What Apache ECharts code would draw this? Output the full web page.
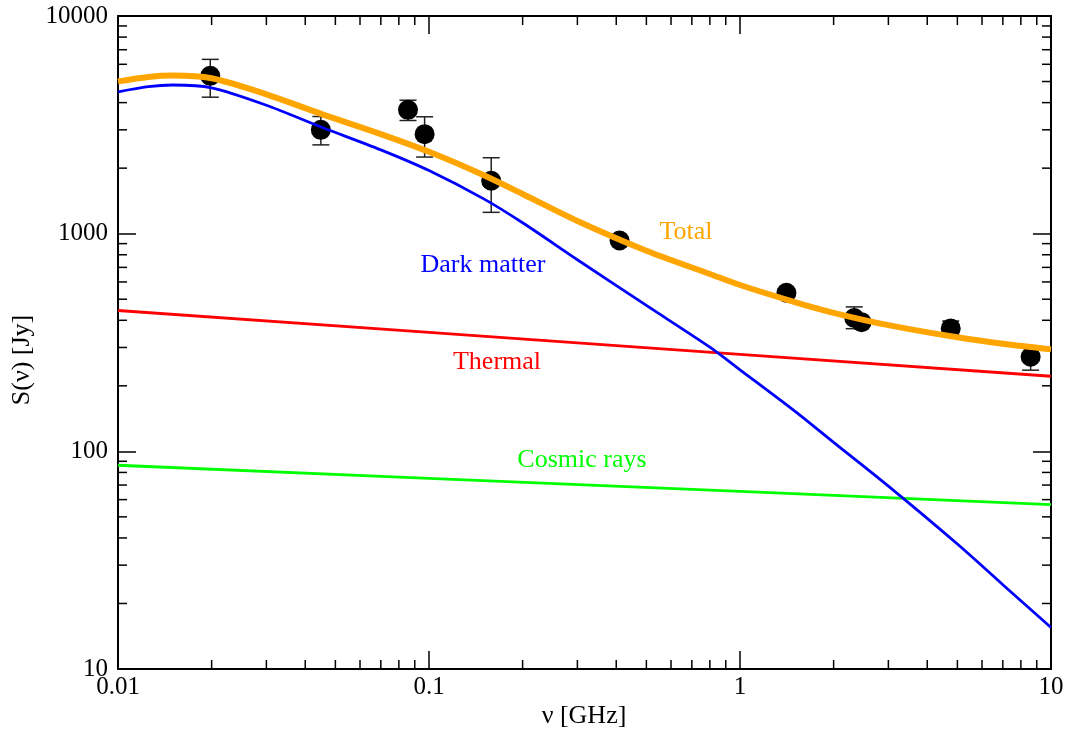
<!DOCTYPE html>
<html>
<head>
<meta charset="utf-8">
<script src="https://cdn.jsdelivr.net/npm/echarts@6/dist/echarts.min.js"></script>
<style>
  html, body { margin: 0; padding: 0; background: #fff; }
  #chart { width: 1072px; height: 732px; }
</style>
</head>
<body>
<div id="chart"></div>
<script>
// ---- data ----
const X_MIN = 0.01, X_MAX = 10;
const Y_MIN = 10, Y_MAX = 10000;

// model curve sampling frequencies (GHz)
const modelFreq = [0.01, 0.0125, 0.015, 0.02, 0.03, 0.045, 0.07, 0.1, 0.15, 0.2, 0.3, 0.5, 0.8, 1, 1.5, 2, 3, 5, 7, 10];
const darkMatter = [4477, 4732, 4819, 4677, 3890, 3090, 2427, 1950, 1445, 1122, 759, 468, 301, 237, 153, 110, 69.2, 37.5, 24.4, 15.5];
const total = [5007, 5251, 5329, 5174, 4368, 3550, 2868, 2377, 1856, 1522, 1144, 835, 653, 581, 485, 433, 380, 334, 312, 294];

const powerFreq = [0.01, 0.1, 1, 10];
const thermal = [443.6, 351.9, 279.0, 221.3];
const cosmicRays = [86.3, 75.1, 65.4, 56.9];

// observed points
const obsFreq = [0.0198, 0.0449, 0.0856, 0.0968, 0.1585, 0.410, 1.41, 2.33, 2.46, 4.76, 8.6];
const obsFlux = [5310, 2999, 3706, 2866, 1750, 930, 535, 410, 392, 367, 272];
const obsLo   = [4237, 2558, 3311, 2249, 1253, null, null, 366, null, 345, 236];
const obsHi   = [6320, 3453, 4103, 3443, 2233, null, null, 461, null, 397, 300];

const xMinorTicks = [0.02,0.03,0.04,0.05,0.06,0.07,0.08,0.09, 0.2,0.3,0.4,0.5,0.6,0.7,0.8,0.9, 2,3,4,5,6,7,8,9];
const yMinorTicks = [20,30,40,50,60,70,80,90, 200,300,400,500,600,700,800,900, 2000,3000,4000,5000,6000,7000,8000,9000];

const labelText = { total: 'Total', dm: 'Dark matter', thermal: 'Thermal', cr: 'Cosmic rays' };
const xTitle = 'ν [GHz]';
const yTitle = 'S(ν) [Jy]';

// ---- chart ----
const FONT = "'Liberation Serif', 'Times New Roman', serif";
const chart = echarts.init(document.getElementById('chart'), null, { renderer: 'canvas' });

const pair = (xs, ys) => xs.map((x, i) => [x, ys[i]]);
const fmt = v => String(Number(Number(v).toPrecision(6)));

function axisCommon(extra) {
  return Object.assign({
    type: 'log', logBase: 10,
    axisLine: { show: true, onZero: false, lineStyle: { color: '#000', width: 2 } },
    axisTick: { show: true, inside: true, length: 18, lineStyle: { color: '#000', width: 1.5 } },
    splitLine: { show: false },
    minorTick: { show: false }
  }, extra);
}

function minorTickSeries(values, dim) {
  return {
    type: 'custom', silent: true, z: 1,
    xAxisIndex: 0, yAxisIndex: 0,
    data: values.map(v => dim === 'x' ? [v, Y_MIN] : [X_MIN, v]),
    renderItem: (params, api) => {
      const cs = params.coordSys;
      const p = api.coord([api.value(0), api.value(1)]);
      const L = 9;
      const style = { stroke: '#000', lineWidth: 1.5 };
      if (dim === 'x') {
        return { type: 'group', children: [
          { type: 'line', shape: { x1: p[0], y1: cs.y + cs.height, x2: p[0], y2: cs.y + cs.height - L }, style },
          { type: 'line', shape: { x1: p[0], y1: cs.y, x2: p[0], y2: cs.y + L }, style }
        ]};
      }
      return { type: 'group', children: [
        { type: 'line', shape: { x1: cs.x, y1: p[1], x2: cs.x + L, y2: p[1] }, style },
        { type: 'line', shape: { x1: cs.x + cs.width, y1: p[1], x2: cs.x + cs.width - L, y2: p[1] }, style }
      ]};
    }
  };
}

const errData = [];
obsFreq.forEach((x, i) => { if (obsLo[i] != null) errData.push([x, obsLo[i], obsHi[i]]); });

const option = {
  animation: false,
  backgroundColor: '#fff',
  textStyle: { fontFamily: FONT },
  grid: { left: 118, top: 16, right: 21, bottom: 63, containLabel: false },
  xAxis: [
    axisCommon({ position: 'bottom', min: X_MIN, max: X_MAX,
      axisLabel: { show: true, color: '#000', fontSize: 25, fontFamily: FONT, margin: 6, formatter: fmt } }),
    axisCommon({ position: 'top', min: X_MIN, max: X_MAX, axisLabel: { show: false } })
  ],
  yAxis: [
    axisCommon({ position: 'left', min: Y_MIN, max: Y_MAX,
      axisLabel: { show: true, color: '#000', fontSize: 25, fontFamily: FONT, margin: 10, formatter: fmt } }),
    axisCommon({ position: 'right', min: Y_MIN, max: Y_MAX, axisLabel: { show: false } })
  ],
  series: [
    minorTickSeries(xMinorTicks, 'x'),
    minorTickSeries(yMinorTicks, 'y'),
    {
      type: 'custom', name: 'errors', z: 2,
      data: errData,
      renderItem: (params, api) => {
        const x = api.value(0);
        const lo = api.coord([x, api.value(1)]);
        const hi = api.coord([x, api.value(2)]);
        const w = 8.5;
        const style = { stroke: '#222', lineWidth: 1.5 };
        return { type: 'group', children: [
          { type: 'line', shape: { x1: lo[0], y1: lo[1], x2: hi[0], y2: hi[1] }, style },
          { type: 'line', shape: { x1: lo[0] - w, y1: lo[1], x2: lo[0] + w, y2: lo[1] }, style },
          { type: 'line', shape: { x1: hi[0] - w, y1: hi[1], x2: hi[0] + w, y2: hi[1] }, style }
        ]};
      }
    },
    {
      type: 'scatter', name: 'data', z: 3,
      symbol: 'circle', symbolSize: 20,
      itemStyle: { color: '#000', opacity: 1 },
      data: pair(obsFreq, obsFlux)
    },
    {
      type: 'line', name: 'Cosmic rays', z: 4, showSymbol: false, symbol: 'none',
      lineStyle: { color: '#00ff00', width: 2.8 },
      data: pair(powerFreq, cosmicRays)
    },
    {
      type: 'line', name: 'Thermal', z: 4, showSymbol: false, symbol: 'none',
      lineStyle: { color: '#ff0000', width: 2.8 },
      data: pair(powerFreq, thermal)
    },
    {
      type: 'line', name: 'Dark matter', z: 5, showSymbol: false, symbol: 'none', smooth: 0.3,
      lineStyle: { color: '#0000ff', width: 2.8 },
      data: pair(modelFreq, darkMatter)
    },
    {
      type: 'line', name: 'Total', z: 6, showSymbol: false, symbol: 'none', smooth: 0.3,
      lineStyle: { color: '#ffa500', width: 6 },
      data: pair(modelFreq, total)
    }
  ],
  graphic: [
    { type: 'text', x: 686, y: 232, style: { text: labelText.total, fill: '#ffa500', font: '26px ' + FONT, textAlign: 'center', textVerticalAlign: 'middle' }, z: 10 },
    { type: 'text', x: 483, y: 265, style: { text: labelText.dm, fill: '#0000ff', font: '26px ' + FONT, textAlign: 'center', textVerticalAlign: 'middle' }, z: 10 },
    { type: 'text', x: 497, y: 362, style: { text: labelText.thermal, fill: '#ff0000', font: '26px ' + FONT, textAlign: 'center', textVerticalAlign: 'middle' }, z: 10 },
    { type: 'text', x: 582, y: 460, style: { text: labelText.cr, fill: '#00ff00', font: '26px ' + FONT, textAlign: 'center', textVerticalAlign: 'middle' }, z: 10 },
    { type: 'text', x: 584, y: 716, style: { text: xTitle, fill: '#000', font: '26px ' + FONT, textAlign: 'center', textVerticalAlign: 'middle' }, z: 10 },
    { type: 'text', x: 22, y: 360, rotation: Math.PI / 2, style: { text: yTitle, fill: '#000', font: '26px ' + FONT, textAlign: 'center', textVerticalAlign: 'middle' }, z: 10 }
  ]
};

chart.setOption(option);
</script>
</body>
</html>
